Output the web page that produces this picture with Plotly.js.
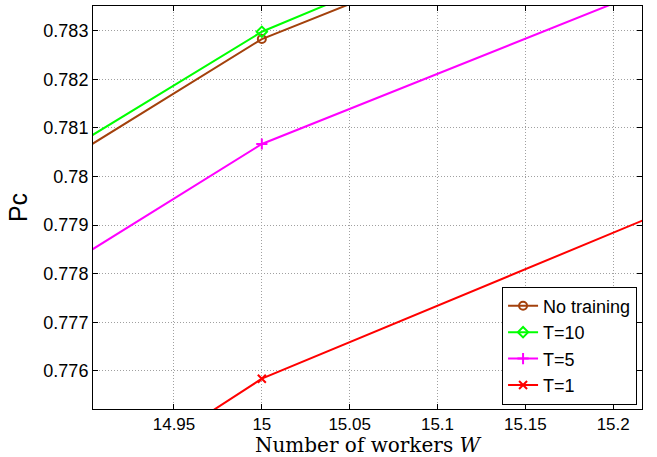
<!DOCTYPE html>
<html><head><meta charset="utf-8">
<script src="https://cdn.plot.ly/plotly-3.0.1.min.js"></script>
<style>body{margin:0;background:#fff}#c{width:657px;height:457px}</style>
</head><body><div id="c"></div>
<script>
const workers = [14, 15, 16];
const noTraining = [0.76046, 0.78283, 0.79723];
const t10 = [0.76092, 0.78298, 0.79808];
const t5 = [0.75819, 0.78067, 0.79512];
const t1 = [0.75238, 0.77584, 0.79086];
const names = ['No training', 'T=10', 'T=5', 'T=1'];
const colors = ['#A3410C', '#00FF00', '#FF00FF', '#FF0000'];
const symbols = ['circle-open', 'diamond-open', 'cross-thin-open', 'x-thin-open'];
const series = [noTraining, t10, t5, t1];
const xTicks = [14.95, 15, 15.05, 15.1, 15.15, 15.2];
const yTicks = [0.776, 0.777, 0.778, 0.779, 0.78, 0.781, 0.782, 0.783];

const traces = series.map((s, i) => ({
  x: workers, y: s, name: names[i], type: 'scatter', mode: 'lines+markers',
  line: {color: colors[i], width: 2},
  marker: {symbol: symbols[i], size: 8, color: colors[i], line: {color: colors[i], width: 2}},
  cliponaxis: true
}));

const ax = {
  showline: true, linecolor: '#000', linewidth: 1, mirror: 'ticks',
  ticks: 'inside', ticklen: 5, tickcolor: '#000',
  showgrid: true, gridcolor: '#a0a0a0', griddash: '1px,2px', gridwidth: 1,
  zeroline: false,
  tickfont: {family: 'Liberation Sans, Arial, sans-serif', size: 17, color: '#000'}
};

const layout = {
  width: 657, height: 457,
  margin: {l: 93, r: 15, t: 6, b: 48},
  paper_bgcolor: '#fff', plot_bgcolor: '#fff',
  showlegend: true,
  xaxis: Object.assign({}, ax, {
    range: [14.9039, 15.2164], tickvals: xTicks, ticktext: xTicks.map(String),
    tickfont: {family: 'Liberation Sans, Arial, sans-serif', size: 17, color: '#000'},
    title: {text: 'Number of workers <i>W</i>', standoff: 3,
      font: {family: 'DejaVu Serif, Liberation Serif, serif', size: 20, color: '#000'}}
  }),
  yaxis: Object.assign({}, ax, {
    range: [0.775216, 0.78351], tickvals: yTicks, ticktext: yTicks.map(String),
    tickfont: {family: 'Liberation Sans, Arial, sans-serif', size: 18, color: '#000'},
    title: {text: 'Pc', standoff: 8,
      font: {family: 'Liberation Sans, Arial, sans-serif', size: 25, color: '#000'}}
  }),
  legend: {
    x: 0.991, y: 0.011, xanchor: 'right', yanchor: 'bottom',
    bgcolor: '#fff', bordercolor: '#000', borderwidth: 1,
    font: {family: 'Liberation Sans, Arial, sans-serif', size: 18, color: '#000'},
    tracegroupgap: 0, itemwidth: 30
  }
};
Plotly.newPlot('c', traces, layout, {displayModeBar: false, staticPlot: true});
</script></body></html>
